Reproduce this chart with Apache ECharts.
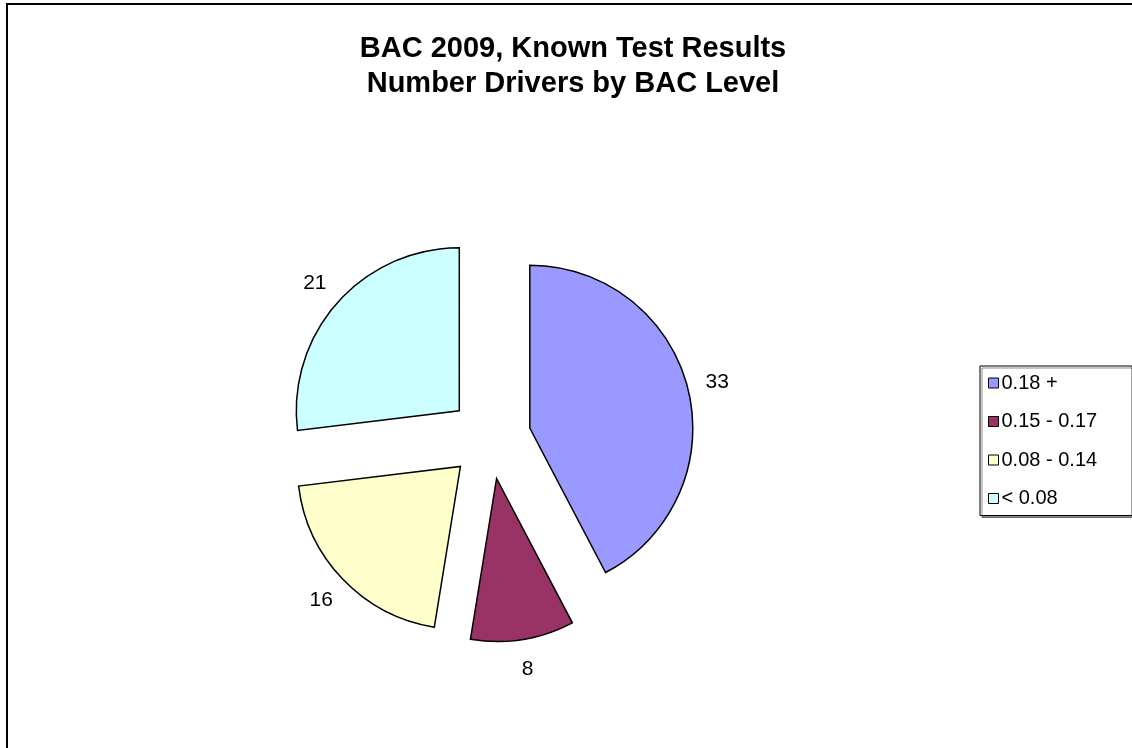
<!DOCTYPE html>
<html>
<head>
<meta charset="utf-8">
<script src="https://cdn.jsdelivr.net/npm/echarts@6/dist/echarts.min.js"></script>
<style>
html,body{margin:0;padding:0;background:#fff;}
#chart{width:1132px;height:748px;}
</style>
</head>
<body>
<div id="chart"></div>
<script>
const titleLines = ['BAC 2009, Known Test Results', 'Number Drivers by BAC Level'];
const categories = ['0.18 +', '0.15 - 0.17', '0.08 - 0.14', '< 0.08'];
const values = [33, 8, 16, 21];
const colors = ['#9999FF', '#993366', '#FFFFCC', '#CCFFFF'];

const FONT = '"Liberation Sans", Arial, sans-serif';
const sliceStyle = { borderColor: '#000', borderWidth: 1.5, borderJoin: 'miter' };

const pieData = categories.map((name, i) => ({
  name: name,
  value: values[i],
  selected: true,
  itemStyle: Object.assign({ color: colors[i] }, sliceStyle)
}));
const labelData = categories.map((name, i) => ({
  name: name,
  value: values[i],
  selected: true
}));

const chart = echarts.init(document.getElementById('chart'), null, { renderer: 'canvas' });
chart.setOption({
  animation: false,
  backgroundColor: '#fff',
  graphic: [{
    type: 'rect',
    z: -10,
    silent: true,
    shape: { x: 7, y: 4, width: 1300, height: 900 },
    style: { fill: 'none', stroke: '#000', lineWidth: 2 }
  }],
  title: {
    text: titleLines.join('\n'),
    left: 573,
    top: 31,
    textAlign: 'center',
    padding: 0,
    textStyle: {
      fontFamily: FONT,
      fontWeight: 'bold',
      fontSize: 29,
      lineHeight: 35,
      color: '#000'
    }
  },
  legend: {
    orient: 'vertical',
    left: 980,
    top: 366,
    data: categories,
    icon: 'rect',
    itemWidth: 10,
    itemHeight: 10,
    itemGap: 18.5,
    padding: [7, 35, 7, 8],
    backgroundColor: '#fff',
    borderColor: '#000',
    borderWidth: 1,
    shadowColor: 'rgba(0,0,0,0.45)',
    shadowOffsetX: 2,
    shadowOffsetY: 2,
    shadowBlur: 0,
    itemStyle: { borderColor: '#000', borderWidth: 1 },
    textStyle: { fontFamily: FONT, fontSize: 20, lineHeight: 20, color: '#000', padding: [0, 0, 0, -2] },
    selectedMode: false
  },
  series: [{
    type: 'pie',
    name: 'BAC',
    center: [490, 438],
    radius: 163,
    startAngle: 90,
    clockwise: true,
    selectedMode: 'multiple',
    selectedOffset: 41,
    avoidLabelOverlap: false,
    label: { show: false },
    labelLine: { show: false },
    itemStyle: sliceStyle,
    select: { itemStyle: sliceStyle },
    emphasis: { disabled: true },
    data: pieData
  }, {
    type: 'pie',
    name: 'labels',
    silent: true,
    center: [490, 438],
    radius: [178, 202],
    startAngle: 90,
    clockwise: true,
    selectedMode: 'multiple',
    selectedOffset: 41,
    avoidLabelOverlap: false,
    itemStyle: { color: 'rgba(0,0,0,0)', borderWidth: 0 },
    select: { itemStyle: { color: 'rgba(0,0,0,0)', borderWidth: 0 } },
    emphasis: { disabled: true },
    labelLine: { show: false },
    label: {
      show: true,
      position: 'inside',
      formatter: '{c}',
      fontFamily: FONT,
      fontSize: 21,
      color: '#000'
    },
    data: labelData
  }]
});
</script>
</body>
</html>
